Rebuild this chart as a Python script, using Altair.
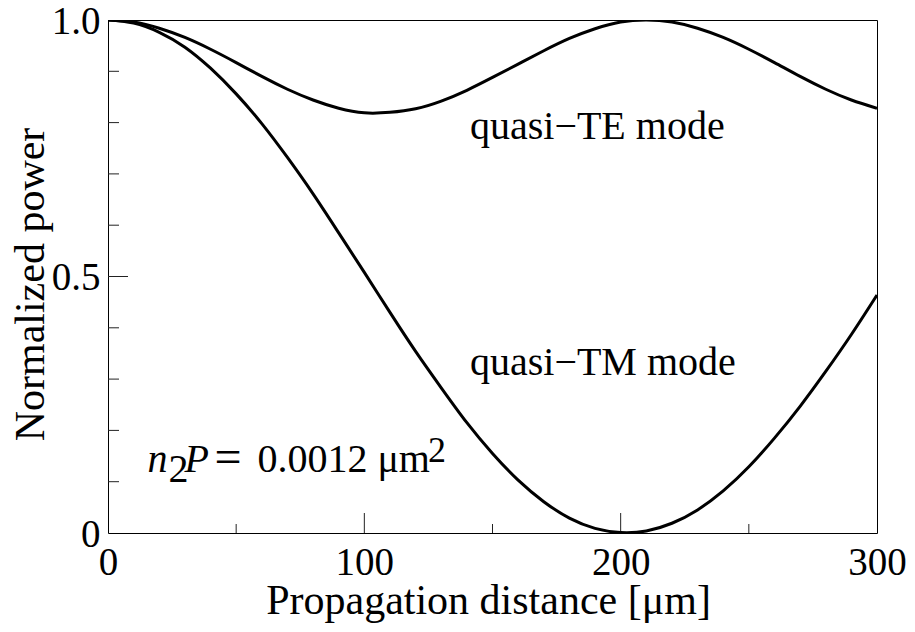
import altair as alt
import pandas as pd

# ---- data ----
x_um = [0, 10, 20, 30, 40, 50, 60, 70, 80, 90, 100, 110, 120, 130, 140, 150,
        160, 170, 180, 190, 200, 210, 220, 230, 240, 250, 260, 270, 280, 290, 300]
te_power = [1.000, 0.996, 0.984, 0.966, 0.943, 0.917, 0.890, 0.865, 0.844, 0.828, 0.819,
            0.820, 0.827, 0.842, 0.863, 0.888, 0.914, 0.940, 0.964, 0.983, 0.996, 1.000,
            0.996, 0.984, 0.966, 0.943, 0.917, 0.890, 0.865, 0.844, 0.828]
tm_power = [1.000, 0.994, 0.976, 0.947, 0.906, 0.856, 0.798, 0.732, 0.661, 0.585, 0.508,
            0.430, 0.354, 0.283, 0.215, 0.155, 0.103, 0.061, 0.029, 0.009, 0.001, 0.004,
            0.019, 0.045, 0.082, 0.129, 0.185, 0.247, 0.315, 0.387, 0.464]

x_major = [100, 200]
x_minor = [50, 150, 250]
y_major = [0.5]
y_minor = [0.1, 0.2, 0.3, 0.4, 0.6, 0.7, 0.8, 0.9]

ann_text = ["quasi\u2212TE mode", "quasi\u2212TM mode"]
ann_x = [141.2, 141.2]
ann_y = [0.769, 0.308]

FONT = "Liberation Serif"
W, H = 769, 513

df = pd.DataFrame({
    "x": x_um * 2,
    "p": te_power + tm_power,
    "mode": ["TE"] * len(x_um) + ["TM"] * len(x_um),
})

xs = alt.Scale(domain=[0, 300], nice=False, zero=False)
ys = alt.Scale(domain=[0, 1], nice=False, zero=False)

lines = alt.Chart(df).mark_line(color="black", strokeWidth=3, interpolate="natural", clip=True).encode(
    x=alt.X("x:Q", scale=xs, axis=alt.Axis(
        title="Propagation distance [\u03bcm]", values=[0, 100, 200, 300], format="d",
        ticks=False, domain=False, grid=False, labelFlush=False, labelOverlap=False,
        labelFont=FONT, labelFontSize=39, labelColor="black", labelPadding=10,
        titleFont=FONT, titleFontSize=42, titleFontWeight="normal", titleColor="black",
        titleX=380, titleY=80, titleBaseline="alphabetic", titleAlign="center")),
    y=alt.Y("p:Q", scale=ys, axis=alt.Axis(
        title="Normalized power", values=[0, 0.5, 1.0],
        labelExpr="datum.value == 0 ? '0' : format(datum.value, '.1f')",
        ticks=False, domain=False, grid=False, labelFlush=False, labelOverlap=False,
        labelBaseline="alphabetic", labelOffset=13,
        labelFont=FONT, labelFontSize=39, labelColor="black", labelPadding=8,
        titleFont=FONT, titleFontSize=42, titleFontWeight="normal", titleColor="black",
        titleAngle=270, titleX=-65, titleY=264, titleBaseline="alphabetic", titleAlign="center")),
    detail="mode:N",
)

tick_color = "#222"
xmaj = alt.Chart(pd.DataFrame({"v": x_major})).mark_rule(color=tick_color, strokeWidth=1).encode(
    x=alt.X("v:Q", scale=xs), y=alt.value(H), y2=alt.value(H - 20))
xmin = alt.Chart(pd.DataFrame({"v": x_minor})).mark_rule(color=tick_color, strokeWidth=1).encode(
    x=alt.X("v:Q", scale=xs), y=alt.value(H), y2=alt.value(H - 9))
ymaj = alt.Chart(pd.DataFrame({"v": y_major})).mark_rule(color=tick_color, strokeWidth=1).encode(
    y=alt.Y("v:Q", scale=ys), x=alt.value(0), x2=alt.value(20))
ymin = alt.Chart(pd.DataFrame({"v": y_minor})).mark_rule(color=tick_color, strokeWidth=1).encode(
    y=alt.Y("v:Q", scale=ys), x=alt.value(0), x2=alt.value(11))

ann = alt.Chart(pd.DataFrame({"t": ann_text, "x": ann_x, "y": ann_y})).mark_text(
    font=FONT, fontSize=40, align="left", baseline="alphabetic", color="black").encode(
    x=alt.X("x:Q", scale=xs), y=alt.Y("y:Q", scale=ys), text="t:N")

# n2P = 0.0012 um^2 formula pieces
f_text = ["n", "P"]
f_x = [15.4, 29.8]
f_y = [0.1195, 0.1195]
formula_it = alt.Chart(pd.DataFrame({"t": f_text, "x": f_x, "y": f_y})).mark_text(
    font=FONT, fontSize=40, fontStyle="italic", align="left", baseline="alphabetic", color="black").encode(
    x=alt.X("x:Q", scale=xs), y=alt.Y("y:Q", scale=ys), text="t:N")

g_text = ["2", "0.0012", "\u03bcm"]
g_x = [23.6, 58.3, 105.1]
g_y = [0.100, 0.1195, 0.1195]
formula_rm = alt.Chart(pd.DataFrame({"t": g_text, "x": g_x, "y": g_y})).mark_text(
    font=FONT, fontSize=40, align="left", baseline="alphabetic", color="black").encode(
    x=alt.X("x:Q", scale=xs), y=alt.Y("y:Q", scale=ys), text="t:N")

e_text = ["="]
e_x = [41.5]
e_y = [0.117]
formula_eq = alt.Chart(pd.DataFrame({"t": e_text, "x": e_x, "y": e_y})).mark_text(
    font=FONT, fontSize=48, align="left", baseline="alphabetic", color="black").encode(
    x=alt.X("x:Q", scale=xs), y=alt.Y("y:Q", scale=ys), text="t:N")

s_text = ["2"]
s_x = [124.8]
s_y = [0.139]
formula_sup = alt.Chart(pd.DataFrame({"t": s_text, "x": s_x, "y": s_y})).mark_text(
    font=FONT, fontSize=36, align="left", baseline="alphabetic", color="black").encode(
    x=alt.X("x:Q", scale=xs), y=alt.Y("y:Q", scale=ys), text="t:N")

chart = alt.layer(xmaj, xmin, ymaj, ymin, lines, ann, formula_it, formula_rm, formula_eq, formula_sup).properties(
    width=W, height=H,
    autosize=alt.AutoSizeParams(type="none"),
    padding={"left": 108, "top": 20, "right": 38, "bottom": 99},
    background="white",
).configure_view(stroke="black", strokeWidth=1)

chart.save("out.html", embed_options={"renderer": "svg", "actions": False})
